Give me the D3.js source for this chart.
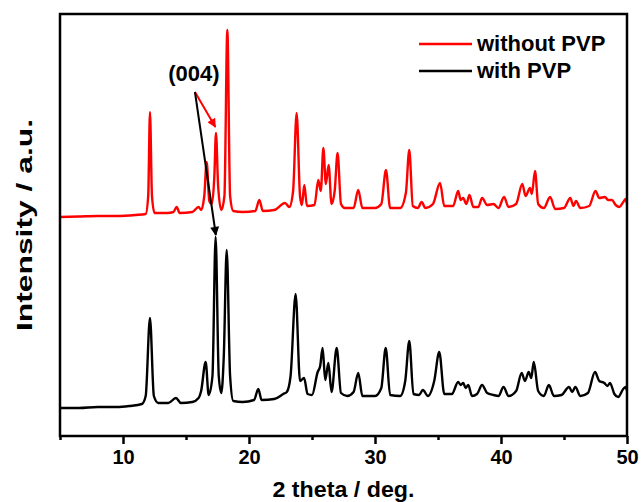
<!DOCTYPE html>
<html><head><meta charset="utf-8">
<script src="https://cdn.jsdelivr.net/npm/d3@7"></script>
<style>body{margin:0;background:#fff}svg{display:block}text{font-family:"Liberation Sans",Arial,sans-serif;font-weight:bold}</style>
</head><body><div id="chart"></div>
<script>
// ---- data (2θ in degrees, intensity in arbitrary units, stacked patterns) ----
const xTicks = [10, 20, 30, 40, 50];
const xMinorTicks = [5, 15, 25, 35, 45];
const seriesNames = ["without PVP", "with PVP"];
const seriesColors = ["#ff0000", "#000000"];

const withoutPVP = [
[5,219],[6.5,219.5],[8,220],[9.5,220],[11,221],[11.8,222],[12.0,240],[12.14,324],[12.3,240],[12.5,223],[13.5,223],[14.0,224],[14.26,229],[14.5,223],[15.5,224],[16.0,229],[16.2,226],[16.45,240],[16.64,274],[16.85,235],[17.05,232],[17.25,260],[17.38,303],[17.55,250],[17.8,226],[18.05,240],[18.28,406],[18.5,240],[18.75,225],[19.5,224],[20.5,225],[20.82,236],[21.1,225],[22,226],[22.86,233],[23.2,229],[23.5,245],[23.78,323],[24.05,240],[24.2,231],[24.39,251],[24.6,230],[25.2,231],[25.5,256],[25.7,245],[25.9,288],[26.1,252],[26.32,271],[26.55,232],[26.8,245],[27.03,283],[27.3,232],[27.6,228],[28.3,228],[28.67,246],[29.0,228],[30.0,228],[30.5,232],[30.87,266],[31.2,228],[32.0,228],[32.45,243],[32.72,286],[33.0,230],[33.4,228],[33.7,234],[34.0,228],[34.6,232],[35.16,253],[35.5,230],[36.2,230],[36.6,245],[36.8,236],[37.0,238],[37.25,232],[37.5,241],[37.8,229],[38.2,229],[38.5,238],[38.9,231],[39.4,232],[39.8,228],[40.24,239],[40.6,229],[41.2,232],[41.69,252],[41.95,240],[42.3,248],[42.45,242],[42.7,265],[42.95,232],[43.4,228],[43.9,239],[44.3,227],[45.0,228],[45.5,238],[45.75,230],[45.95,235],[46.3,228],[47.0,230],[47.5,245],[47.8,238],[48.25,239],[48.5,236],[48.8,236],[49.1,231],[49.4,229],[49.7,234],[49.9,237],[50,232]
];
const withPVP = [
[5,28],[6.5,28],[8,29],[9.5,29],[10.5,30],[11.5,32],[11.8,40],[12.14,118],[12.45,40],[12.8,33],[13.6,33],[14.2,38],[14.6,33],[15.5,34],[16.0,38],[16.2,45],[16.56,74],[16.8,41],[17.1,60],[17.35,199],[17.6,60],[17.8,43],[18.0,80],[18.23,186],[18.5,60],[18.75,35],[19.5,34],[20.4,36],[20.74,47],[21.0,36],[22.0,37],[22.72,42],[23.0,44],[23.3,60],[23.7,142],[24.05,55],[24.37,58],[24.65,42],[25.0,41],[25.45,64],[25.65,70],[25.84,88],[26.05,56],[26.3,73],[26.55,44],[26.96,88],[27.3,43],[27.8,40],[28.3,44],[28.67,63],[29.0,40],[30.0,40],[30.5,48],[30.85,88],[31.2,41],[32.0,40],[32.4,55],[32.72,95],[33.05,42],[33.5,41],[33.8,46],[34.2,40],[34.7,55],[35.1,84],[35.5,42],[36.1,42],[36.6,54],[36.8,51],[37.0,53],[37.2,48],[37.4,51],[37.7,40],[38.1,42],[38.5,51],[38.9,43],[39.4,41],[39.8,40],[40.2,49],[40.6,40],[41.2,45],[41.64,63],[41.9,55],[42.2,64],[42.4,58],[42.6,74],[42.95,45],[43.4,40],[43.8,51],[44.2,40],[44.8,41],[45.4,49],[45.65,44],[45.9,49],[46.3,40],[46.9,43],[47.46,64],[47.8,55],[48.2,53],[48.45,50],[48.65,53],[49.0,42],[49.3,39],[49.7,47],[49.9,49],[50,45]
];
// annotation "(004)": label anchor and arrow tips [2θ, intensity]
const annoLabel = "(004)";
const annoText = [15.63, 355];
const annoStart = [15.71, 344];
const annoTips = [[17.33, 309], [17.37, 201]];

// ---- layout ----
const W = 643, H = 502;
const m = {left: 60, top: 14, right: 16, bottom: 66};
const iw = W - m.left - m.right, ih = H - m.top - m.bottom;

const x = d3.scaleLinear().domain([5, 50]).range([0, iw]);
const y = d3.scaleLinear().domain([0, 422]).range([ih, 0]);

const svg = d3.select("#chart").append("svg").attr("width", W).attr("height", H);
const defs = svg.append("defs");
seriesColors.forEach((c, i) => {
  defs.append("marker").attr("id", "ah" + i).attr("viewBox", "0 0 10 10")
    .attr("refX", 9).attr("refY", 5).attr("markerWidth", 13).attr("markerHeight", 9)
    .attr("markerUnits", "userSpaceOnUse").attr("orient", "auto")
    .append("path").attr("d", "M0,0 L10,5 L0,10 Z").attr("fill", c);
});
const g = svg.append("g").attr("transform", `translate(${m.left},${m.top})`);

const line = d3.line().x(d => x(d[0])).y(d => y(d[1])).curve(d3.curveMonotoneX);
g.append("path").datum(withoutPVP).attr("d", line).attr("fill", "none")
  .attr("stroke", seriesColors[0]).attr("stroke-width", 2.4).attr("stroke-linejoin", "round");
g.append("path").datum(withPVP).attr("d", line).attr("fill", "none")
  .attr("stroke", seriesColors[1]).attr("stroke-width", 2.4).attr("stroke-linejoin", "round");

// frame
g.append("rect").attr("width", iw).attr("height", ih).attr("fill", "none")
  .attr("stroke", "#000").attr("stroke-width", 2.5);

// axes
const ax = g.append("g").attr("transform", `translate(0,${ih})`)
  .call(d3.axisBottom(x).tickValues(xTicks).tickSize(8).tickPadding(6).tickFormat(d3.format("d")));
ax.select(".domain").remove();
ax.selectAll("line").attr("stroke-width", 2.5);
ax.selectAll("text").attr("font-size", 20).attr("fill", "#000");
const axm = g.append("g").attr("transform", `translate(0,${ih})`)
  .call(d3.axisBottom(x).tickValues(xMinorTicks).tickSize(4).tickFormat(""));
axm.select(".domain").remove();
axm.selectAll("line").attr("stroke-width", 2.5);

svg.append("text").attr("x", m.left + iw / 2).attr("y", 497).attr("text-anchor", "middle")
  .attr("font-size", 22).attr("textLength", 142).attr("lengthAdjust", "spacingAndGlyphs")
  .text("2 theta / deg.");
svg.append("text").attr("transform", `translate(32,${m.top + ih / 2}) rotate(-90)`)
  .attr("text-anchor", "middle").attr("font-size", 22)
  .attr("textLength", 212).attr("lengthAdjust", "spacingAndGlyphs").text("Intensity / a.u.");

// legend
const lg = svg.append("g");
seriesNames.forEach((n, i) => {
  const ly = 44 + i * 27;
  lg.append("line").attr("x1", 419).attr("x2", 472).attr("y1", ly).attr("y2", ly)
    .attr("stroke", seriesColors[i]).attr("stroke-width", 2.5);
  lg.append("text").attr("x", 477).attr("y", ly + 7).attr("font-size", 22).text(n);
});

// annotation
g.append("text").attr("x", x(annoText[0])).attr("y", y(annoText[1])).attr("text-anchor", "middle")
  .attr("font-size", 22).text(annoLabel);
annoTips.forEach((t, i) => {
  g.append("line").attr("x1", x(annoStart[0])).attr("y1", y(annoStart[1]))
    .attr("x2", x(t[0])).attr("y2", y(t[1])).attr("stroke", seriesColors[i])
    .attr("stroke-width", 2).attr("marker-end", `url(#ah${i})`);
});
</script></body></html>
